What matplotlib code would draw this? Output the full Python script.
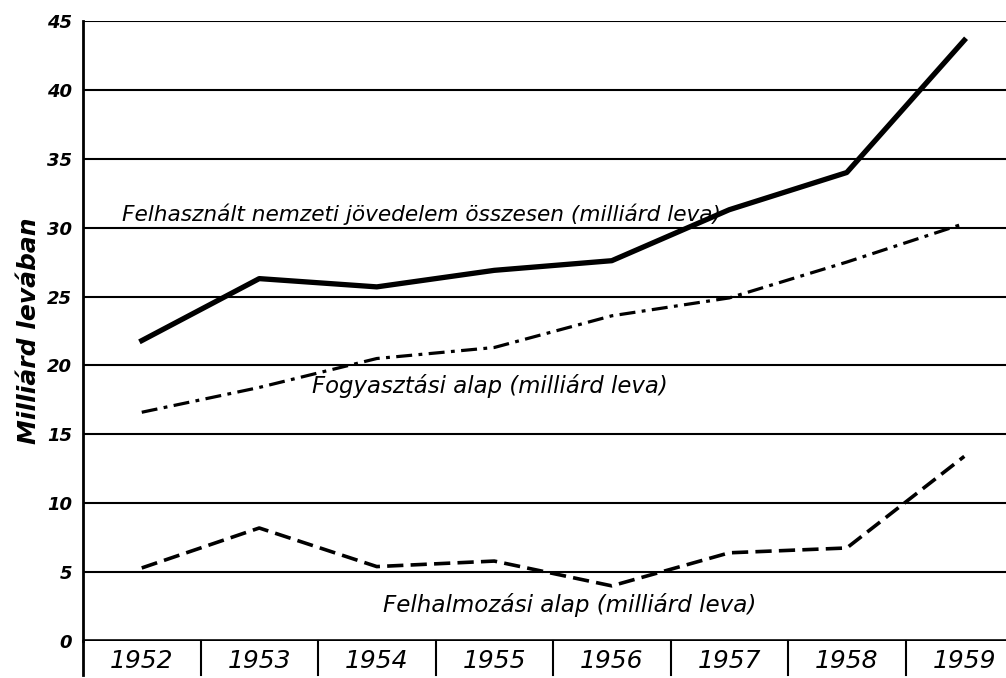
import numpy as np
import matplotlib.pyplot as plt

years = ["1952", "1953", "1954", "1955", "1956", "1957", "1958", "1959"]
osszesen = [21.8, 26.3, 25.7, 26.9, 27.6, 31.3, 34.0, 43.6]
fogyasztasi = [16.6, 18.4, 20.5, 21.3, 23.6, 24.9, 27.5, 30.3]
felhalmozasi = [5.3, 8.2, 5.4, 5.8, 4.0, 6.4, 6.75, 13.4]
yticks = [0, 5, 10, 15, 20, 25, 30, 35, 40, 45]

fnt = dict(family="DejaVu Sans", style="italic")

fig = plt.figure(figsize=(10.06, 6.78), dpi=100)
ax = fig.add_axes([0.0825, 0.0546, 0.9175, 0.9145])

x = np.arange(len(years))

# grid lines by hand, so they look like the printed ones
for v in yticks[1:]:
    ax.axhline(v, color="black", lw=1.5, zorder=1)
ax.axhline(0, color="black", lw=2.6, zorder=1)

ax.plot(x, osszesen, color="black", lw=3.8, solid_joinstyle="round", zorder=3)
ax.plot(x, fogyasztasi, color="black", lw=2.3, dashes=(5, 2, 1.2, 2), zorder=3)
ax.plot(x, felhalmozasi, color="black", lw=2.6, dashes=(4.5, 2), zorder=3)

ax.set_xlim(-0.5, 7.355)
ax.set_ylim(0, 45)

ax.set_yticks(yticks)
ax.set_yticklabels([str(v) for v in yticks], fontsize=13, fontweight="bold", **fnt)
ax.set_xticks(x)
ax.set_xticklabels(years, fontsize=18, **fnt)
ax.tick_params(axis="y", length=0, pad=8)
ax.tick_params(axis="x", length=0, pad=6)

for s in ["top", "right", "bottom"]:
    ax.spines[s].set_visible(False)
ax.spines["left"].set_linewidth(2)
ax.spines["left"].set_bounds(0, 45)

# separators between the years, hanging below the axis
trans = ax.get_xaxis_transform()
for b in np.arange(-0.5, 7.5, 1.0):
    ax.plot([b, b], [0, -0.055], transform=trans, color="black",
            lw=2 if b < 0 else 1.5, clip_on=False)

ax.set_ylabel("Milliárd levában", fontsize=18, fontweight="bold", labelpad=4, **fnt)

ax.text(-0.17, 31.0, "Felhasznált nemzeti jövedelem összesen (milliárd leva)",
        fontsize=15.6, va="center", ha="left", **fnt)
ax.text(1.45, 18.5, "Fogyasztási alap (milliárd leva)",
        fontsize=16.4, va="center", ha="left", **fnt)
ax.text(2.05, 2.6, "Felhalmozási alap (milliárd leva)",
        fontsize=16.6, va="center", ha="left", **fnt)

fig.savefig("out.png", dpi=100)
